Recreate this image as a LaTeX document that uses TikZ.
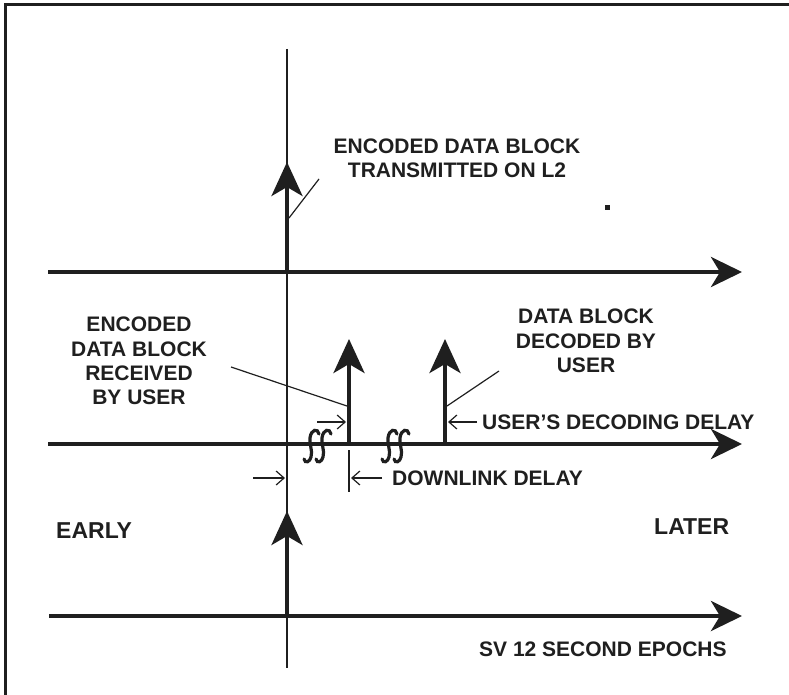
\documentclass[tikz,border=0pt]{standalone}
\usepackage{fontspec}
\setmainfont{Liberation Sans}
\usetikzlibrary{arrows.meta}
\newcommand{\SqStroke}[1]{%
  \draw[squig] (#1+2,434) .. controls (#1+1,428) and (#1-6,429) .. (#1-7,438)
     .. controls (#1-8,445) and (#1-4,450) .. (#1-6,457)
     .. controls (#1-7,462) and (#1-12,464) .. (#1-13,459);}
\begin{document}
\begin{tikzpicture}[x=1pt,y=-1pt,
  ink/.style={black!88},
  axis/.style={ink, line width=4pt, -{Stealth[length=31pt,width=30pt,inset=9pt]}},
  evt/.style={ink, line width=4pt, -{Stealth[length=34pt,width=31pt,inset=9pt]}},
  leader/.style={ink, line width=1.2pt},
  thinline/.style={ink, line width=1.2pt},
  delay/.style={ink, line width=1.2pt, -{Straight Barb[length=8pt,width=14pt]}},
  lbl/.style={text=black!88, font=\bfseries\fontsize{21}{24.3}\selectfont, inner sep=0pt, align=center},
  big/.style={text=black!88, font=\bfseries\fontsize{23}{26}\selectfont, inner sep=0pt},
  squig/.style={ink, line width=3.2pt, line cap=round}
]
\useasboundingbox (0,0) rectangle (789,695);
% frame
\draw[ink, line width=3pt] (5,695) -- (5,5) -- (789,5);
% reference vertical line
\coordinate (vtop) at (287,49);
\coordinate (vbot) at (287,668);
\draw[thinline] (vtop) -- (vbot);
% axes
\coordinate (a1s) at (48,272); \coordinate (a1e) at (742,272);
\coordinate (a2s) at (48,444); \coordinate (a2e) at (742,444);
\coordinate (a3s) at (49,616); \coordinate (a3e) at (742,616);
\draw[axis] (a1s) -- (a1e);
\draw[axis] (a2s) -- (a2e);
\draw[axis] (a3s) -- (a3e);
% event arrows
\coordinate (e1b) at (287,272); \coordinate (e1t) at (287,162);
\coordinate (e2b) at (349,444); \coordinate (e2t) at (349,339);
\coordinate (e3b) at (445,444); \coordinate (e3t) at (445,339);
\coordinate (e4b) at (287,616); \coordinate (e4t) at (287,511);
\draw[evt] (e1b) -- (e1t);
\draw[evt] (e2b) -- (e2t);
\draw[evt] (e3b) -- (e3t);
\draw[evt] (e4b) -- (e4t);
% break marks
\SqStroke{317}
\SqStroke{329}
\SqStroke{395}
\SqStroke{407}
% labels
\node[lbl] (txL2) at (457,158.5) {ENCODED DATA BLOCK\\TRANSMITTED ON L2};
\node[lbl] (rcv) at (139,361) {ENCODED\\DATA BLOCK\\RECEIVED\\BY USER};
\node[lbl] (dec) at (586,341) {DATA BLOCK\\DECODED BY\\USER};
\node[lbl, anchor=west] (udd) at (482,422) {USER’S DECODING DELAY};
\node[lbl, anchor=west] (dld) at (392,478) {DOWNLINK DELAY};
\node[big, anchor=west] (early) at (56,531) {EARLY};
\node[big, anchor=west] (later) at (654,527) {LATER};
\node[lbl, anchor=west] (sv) at (479,649) {SV 12 SECOND EPOCHS};
% small dot
\fill[ink] (604.5,205) rectangle (609.5,210);
% leader lines
\coordinate (l1a) at (289,218); \coordinate (l1b) at (319,179);
\coordinate (l2a) at (231,367); \coordinate (l2b) at (347,406);
\coordinate (l3a) at (499,371); \coordinate (l3b) at (447,406);
\draw[leader] (l1b) -- (l1a);
\draw[leader] (l2a) -- (l2b);
\draw[leader] (l3a) -- (l3b);
% delay arrows
\coordinate (d1s) at (317,422); \coordinate (d1e) at (346,422);
\coordinate (d2s) at (477,422); \coordinate (d2e) at (448,422);
\coordinate (d3s) at (253,478); \coordinate (d3e) at (285,478);
\coordinate (d4s) at (382,478); \coordinate (d4e) at (351,478);
\draw[delay] (d1s) -- (d1e);
\draw[delay] (d2s) -- (d2e);
\draw[delay] (d3s) -- (d3e);
\draw[delay] (d4s) -- (d4e);
\coordinate (tk1) at (349,450); \coordinate (tk2) at (349,492);
\draw[thinline] (tk1) -- (tk2);
\end{tikzpicture}
\end{document}
